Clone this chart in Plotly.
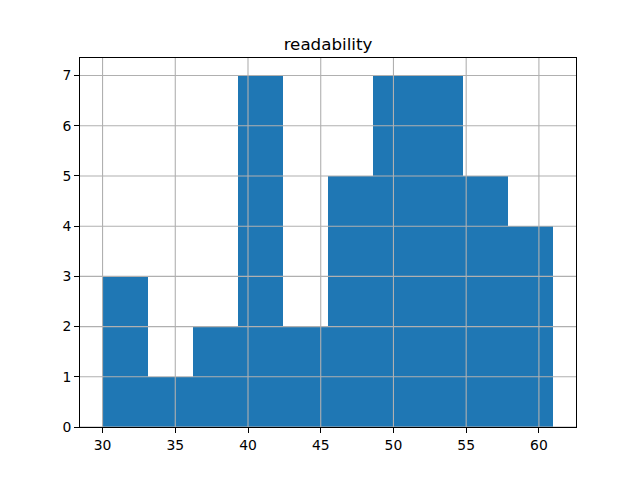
import plotly.graph_objects as go

bin_edges = [30.0, 33.1, 36.2, 39.3, 42.4, 45.5, 48.6, 51.7, 54.8, 57.9, 61.0]
counts = [3, 1, 2, 7, 2, 5, 7, 7, 5, 4]
x_ticks = [30, 35, 40, 45, 50, 55, 60]
y_ticks = [0, 1, 2, 3, 4, 5, 6, 7]
title_text = "readability"

centers = [(a + b) / 2 for a, b in zip(bin_edges[:-1], bin_edges[1:])]
widths = [b - a for a, b in zip(bin_edges[:-1], bin_edges[1:])]

fig = go.Figure(go.Bar(x=centers, y=counts, width=widths,
                       marker=dict(color="#1f77b4", line=dict(width=0))))

span = bin_edges[-1] - bin_edges[0]
xr = [bin_edges[0] - 0.05 * span, bin_edges[-1] + 0.05 * span]
yr = [0, max(counts) * 1.05]

shapes = []
for t in x_ticks:
    shapes.append(dict(type="line", xref="x", yref="paper", x0=t, x1=t, y0=0, y1=1,
                       line=dict(color="#b0b0b0", width=1.1), layer="above"))
for t in y_ticks:
    shapes.append(dict(type="line", xref="paper", yref="y", x0=0, x1=1, y0=t, y1=t,
                       line=dict(color="#b0b0b0", width=1.1), layer="above"))

axis_common = dict(showgrid=False, zeroline=False, showline=True, linecolor="black",
                   linewidth=1.1, mirror=True, ticks="outside", ticklen=4.9,
                   tickwidth=1.1, tickcolor="black",
                   tickfont=dict(family="DejaVu Sans", size=13.9, color="black"))

fig.update_layout(
    width=640, height=480,
    margin=dict(l=80, r=64, t=58, b=53),
    paper_bgcolor="white", plot_bgcolor="white",
    showlegend=False, bargap=0,
    title=dict(text=title_text, x=0.5 * (80 + 576) / 640, xanchor="center",
               y=1 - 44 / 480, yanchor="middle", yref="container",
               font=dict(family="DejaVu Sans", size=16.7, color="black")),
    xaxis=dict(range=xr, tickvals=x_ticks, ticktext=[str(t) for t in x_ticks], **axis_common),
    yaxis=dict(range=yr, tickvals=y_ticks, ticktext=[str(t) for t in y_ticks], **axis_common),
    shapes=shapes,
)

fig.write_html("out.html")
